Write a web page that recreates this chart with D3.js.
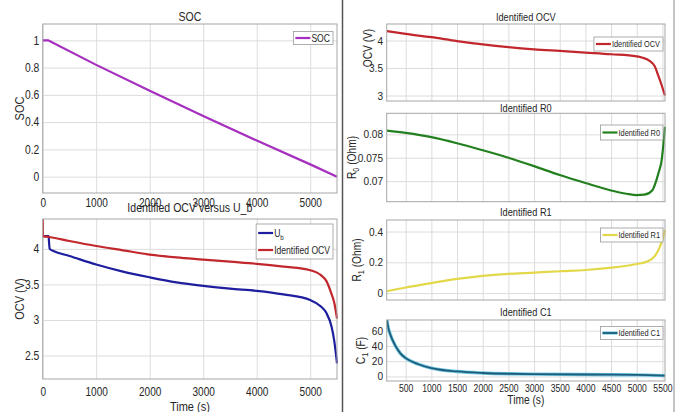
<!DOCTYPE html>
<html>
<head>
<meta charset="utf-8">
<script src="https://cdn.jsdelivr.net/npm/d3@7"></script>
<style>
  html, body { margin: 0; padding: 0; background: #fff; }
  svg { display: block; font-family: "Liberation Sans", Arial, Helvetica, sans-serif; }
  .tick line { stroke: none; }
  .domain { stroke: none; }
</style>
</head>
<body>
<svg id="fig" width="682" height="412"></svg>
<script>
// ---- SOC (left, top) ----
const socTime = [0, 100, 1000, 2000, 3000, 4000, 5000, 5500];
const socVal  = [1, 1, 0.82, 0.63, 0.445, 0.265, 0.09, 0.0];

// ---- Identified OCV versus U_b (left, bottom) ----
const ubTime = [0, 110, 118, 130, 200, 500, 1000, 1500, 2000, 2500, 3000, 3500, 4000, 4500, 5000, 5200, 5300, 5400, 5450, 5500];
const ubVal  = [4.18, 4.18, 4.1, 4.0, 3.97, 3.90, 3.78, 3.68, 3.60, 3.53, 3.48, 3.44, 3.41, 3.36, 3.28, 3.19, 3.10, 2.90, 2.70, 2.39];
const ocvLTime = [0, 3, 100, 500, 1000, 1500, 2000, 2500, 3000, 3500, 4000, 4500, 5000, 5200, 5300, 5400, 5450, 5500];
const ocvLVal  = [4.42, 4.18, 4.17, 4.11, 4.04, 3.98, 3.92, 3.88, 3.85, 3.82, 3.79, 3.75, 3.70, 3.63, 3.55, 3.36, 3.24, 3.02];

// ---- right column: identified parameters ----
const ocvTime = [135, 500, 1000, 1500, 2000, 2500, 3000, 3500, 4000, 4500, 5000, 5100, 5250, 5350, 5420, 5480, 5550];
const ocvVal  = [4.17, 4.12, 4.06, 3.99, 3.93, 3.88, 3.84, 3.81, 3.78, 3.75, 3.71, 3.69, 3.63, 3.53, 3.36, 3.20, 3.00];

const r0Time = [135, 500, 1000, 1500, 2000, 2500, 3000, 3500, 4000, 4500, 4800, 5000, 5150, 5300, 5420, 5485, 5550];
const r0Val  = [0.0808, 0.0803, 0.0794, 0.0781, 0.0766, 0.0750, 0.0732, 0.0713, 0.0696, 0.0680, 0.0673, 0.0670, 0.0671, 0.0680, 0.0716, 0.0745, 0.0816];

const r1Time = [135, 500, 1000, 1500, 2000, 2500, 3000, 3500, 4000, 4500, 5000, 5200, 5350, 5450, 5520, 5550];
const r1Val  = [0.012, 0.036, 0.065, 0.092, 0.112, 0.125, 0.133, 0.142, 0.150, 0.165, 0.189, 0.205, 0.24, 0.30, 0.37, 0.41];

const c1Time = [135, 160, 200, 300, 400, 500, 750, 1000, 1500, 2000, 2500, 3000, 4000, 5000, 5550];
const c1Val  = [74, 64, 55, 40, 30, 24, 16, 11, 6.5, 4.5, 3.5, 3, 2.5, 2, 1.0];

// tick values
const leftXTicks  = [0, 1000, 2000, 3000, 4000, 5000];
const socYTicks   = [0, 0.2, 0.4, 0.6, 0.8, 1];
const ubYTicks    = [2.5, 3, 3.5, 4];
const rightXTicks = [500, 1000, 1500, 2000, 2500, 3000, 3500, 4000, 4500, 5000, 5500];
const ocvYTicks   = [3, 3.5, 4];
const r0YTicks    = [0.07, 0.075, 0.08];
const r1YTicks    = [0, 0.2, 0.4];
const c1YTicks    = [0, 20, 40, 60];

const svg = d3.select("#fig");
const INK = "#262626";

// text helper: narrow glyphs via horizontal scale, optional rotation, sub/superscript parts
function label(g, x, y, txt, opt = {}) {
  const size = opt.size || 11.5, sx = opt.sx || 0.86;
  const grp = g.append("g").attr("transform",
    `translate(${x},${y})` + (opt.rot ? ` rotate(${opt.rot})` : "") + ` scale(${sx},1)`);
  const t = grp.append("text")
    .attr("text-anchor", opt.anchor || "middle")
    .attr("font-size", size)
    .attr("fill", INK);
  if (Array.isArray(txt)) {
    txt.forEach(p => {
      const ts = t.append("tspan").text(p.s);
      if (p.sub) ts.attr("font-size", size * 0.72).attr("dy", 3);
      else if (p.after) ts.attr("dy", -3);
    });
  } else t.text(txt);
  return { t, sx };
}

function panel(o) {
  const g = svg.append("g");
  const x = d3.scaleLinear().domain(o.xd).range([o.x0, o.x1]);
  const y = d3.scaleLinear().domain(o.yd).range([o.y1, o.y0]);
  const st = o.text;

  g.append("rect").attr("x", o.x0).attr("y", o.y0)
    .attr("width", o.x1 - o.x0).attr("height", o.y1 - o.y0).attr("fill", "#fff");

  // grid
  g.append("g").attr("transform", `translate(0,${o.y1})`)
    .call(d3.axisBottom(x).tickValues(o.xt).tickSize(-(o.y1 - o.y0)).tickFormat(""))
    .call(s => s.selectAll(".tick line").style("stroke", "#dcdcdc").attr("stroke-width", 1));
  g.append("g").attr("transform", `translate(${o.x0},0)`)
    .call(d3.axisLeft(y).tickValues(o.yt).tickSize(-(o.x1 - o.x0)).tickFormat(""))
    .call(s => s.selectAll(".tick line").style("stroke", "#dcdcdc").attr("stroke-width", 1));

  // tick labels
  if (o.showX) {
    const ax = g.append("g").attr("transform", `translate(0,${o.y1})`)
      .call(d3.axisBottom(x).tickValues(o.xt).tickSize(0).tickPadding(o.xPad).tickFormat(d3.format("d")));
    ax.selectAll("text").attr("font-size", st.xt[0]).attr("fill", INK).attr("font-family", null)
      .attr("transform", `scale(${st.xt[1]},1)`);
  }
  const ay = g.append("g").attr("transform", `translate(${o.x0},0)`)
    .call(d3.axisLeft(y).tickValues(o.yt).tickSize(0).tickPadding(4).tickFormat(d => +d.toFixed(3) + ""));
  ay.selectAll("text").attr("font-size", st.yt[0]).attr("fill", INK).attr("font-family", null)
    .attr("transform", `scale(${st.yt[1]},1)`);

  // series
  const clip = "c" + Math.round(o.x0) + "_" + Math.round(o.y0);
  svg.append("clipPath").attr("id", clip).append("rect")
    .attr("x", o.x0).attr("y", o.y0 - 1).attr("width", o.x1 - o.x0 + 1).attr("height", o.y1 - o.y0 + 2);
  o.series.forEach(s => {
    const pts = s.t.map((t, i) => [t, s.v[i]]);
    const line = d3.line().x(d => x(d[0])).y(d => y(d[1])).curve(s.curve || d3.curveMonotoneX);
    if (s.halo) {
      g.append("path").attr("d", line(pts)).attr("fill", "none")
        .attr("stroke", s.halo).attr("stroke-width", s.w + 1.6).attr("clip-path", `url(#${clip})`)
        .attr("stroke-linejoin", "round");
    }
    g.append("path").attr("d", line(pts)).attr("fill", "none")
      .attr("stroke", s.color).attr("stroke-width", s.w).attr("clip-path", `url(#${clip})`)
      .attr("stroke-linejoin", "round");
  });

  // axes box
  g.append("rect").attr("x", o.x0).attr("y", o.y0)
    .attr("width", o.x1 - o.x0).attr("height", o.y1 - o.y0)
    .attr("fill", "none").attr("stroke", "#a6a6a6").attr("stroke-width", 1);

  // title, labels
  label(g, (o.x0 + o.x1) / 2, o.titleY, o.title, { size: st.title[0], sx: st.title[1] });
  label(g, o.ylabX, o.ylabY || (o.y0 + o.y1) / 2, o.ylab, { rot: -90, size: st.ylab[0], sx: st.ylab[1] });
  if (o.xlabel) label(g, (o.x0 + o.x1) / 2, o.xlabelY, o.xlabel, { size: st.ylab[0], sx: st.ylab[1] });

  // legend, anchored on its right edge
  const L = o.legend;
  const lg = g.append("g");
  const rowH = L.rowH;
  const box = lg.append("rect").attr("y", L.y)
    .attr("height", rowH * o.series.length + 1).attr("fill", "#fff")
    .attr("stroke", "#9a9a9a").attr("stroke-width", 0.8);
  const items = lg.append("g");
  let maxW = 0;
  o.series.forEach((s, i) => {
    const cy = L.y + rowH * i + rowH / 2 + 0.5;
    if (s.halo) items.append("line").attr("x1", 2).attr("x2", 17).attr("y1", cy).attr("y2", cy)
      .attr("stroke", s.halo).attr("stroke-width", s.w + 1.4);
    items.append("line").attr("x1", 2).attr("x2", 17).attr("y1", cy).attr("y2", cy)
      .attr("stroke", s.color).attr("stroke-width", s.w);
    const r = label(items, 18, cy + st.leg[0] * 0.35, s.name, { anchor: "start", size: st.leg[0], sx: st.leg[1] });
    maxW = Math.max(maxW, r.t.node().getComputedTextLength() * r.sx);
  });
  const bw = 18 + maxW + 3;
  box.attr("x", L.r - bw).attr("width", bw);
  items.attr("transform", `translate(${L.r - bw},0)`);
  return { x, y };
}

// text sizes: [font-size, horizontal scale]
const leftText  = { xt: [12, 0.84], yt: [12, 0.86], title: [12, 0.88], ylab: [12.5, 0.88], leg: [10, 0.86] };
const rightText = { xt: [10.8, 0.8], yt: [11, 0.92], title: [11.5, 0.8], ylab: [12, 0.85], leg: [9.5, 0.78] };

// left column
panel({
  x0: 42.7, x1: 337, y0: 24, y1: 193, xd: [0, 5500], yd: [-0.12, 1.12],
  xt: leftXTicks, yt: socYTicks, showX: true, xPad: 5, text: leftText,
  title: "SOC", titleY: 21, ylab: "SOC", ylabX: 24,
  series: [{ t: socTime, v: socVal, color: "#a62fbf", w: 2.2, name: "SOC", curve: d3.curveLinear }],
  legend: { r: 333, y: 31.5, rowH: 12 }
});
panel({
  x0: 42.7, x1: 337, y0: 219, y1: 379, xd: [0, 5500], yd: [2.17, 4.42],
  xt: leftXTicks, yt: ubYTicks, showX: true, xPad: 8.5, text: leftText,
  title: "Identified OCV versus U_b", titleY: 212, ylab: "OCV (V)", ylabX: 24,
  xlabel: "Time (s)", xlabelY: 411,
  series: [
    { t: ubTime, v: ubVal, color: "#1e1e9e", w: 2.2, name: [{ s: "U" }, { s: "b", sub: true }] },
    { t: ocvLTime, v: ocvLVal, color: "#c1272d", w: 2.2, name: "Identified OCV" }
  ],
  legend: { r: 333, y: 224, rowH: 17 }
});

// right column
const RX0 = 386.7, RX1 = 665, RXD = [130, 5550];
panel({
  x0: RX0, x1: RX1, y0: 24, y1: 101, xd: RXD, yd: [2.9, 4.3],
  xt: rightXTicks, yt: ocvYTicks, showX: false, text: rightText,
  title: "Identified OCV", titleY: 21, ylab: "OCV (V)", ylabX: 372, ylabY: 48,
  series: [{ t: ocvTime, v: ocvVal, color: "#c1272d", w: 2.2, name: "Identified OCV" }],
  legend: { r: 663, y: 37, rowH: 13 }
});
panel({
  x0: RX0, x1: RX1, y0: 113.3, y1: 201.7, xd: RXD, yd: [0.0656, 0.0845],
  xt: rightXTicks, yt: r0YTicks, showX: false, text: rightText,
  title: "Identified R0", titleY: 112, ylab: [{ s: "R" }, { s: "0", sub: true }, { s: " (Ohm)", after: true }], ylabX: 356,
  series: [{ t: r0Time, v: r0Val, color: "#23801f", w: 2.2, name: "Identified R0" }],
  legend: { r: 663, y: 125, rowH: 14 }
});
panel({
  x0: RX0, x1: RX1, y0: 220, y1: 300, xd: RXD, yd: [-0.045, 0.475],
  xt: rightXTicks, yt: r1YTicks, showX: false, text: rightText,
  title: "Identified R1", titleY: 216, ylab: [{ s: "R" }, { s: "1", sub: true }, { s: " (Ohm)", after: true }], ylabX: 361,
  series: [{ t: r1Time, v: r1Val, color: "#e3d84a", w: 2.2, name: "Identified R1" }],
  legend: { r: 663, y: 228, rowH: 13 }
});
panel({
  x0: RX0, x1: RX1, y0: 320, y1: 381, xd: RXD, yd: [-6, 74],
  xt: rightXTicks, yt: c1YTicks, showX: true, xPad: 3.5, text: rightText,
  title: "Identified C1", titleY: 316, ylab: [{ s: "C" }, { s: "1", sub: true }, { s: " (F)", after: true }], ylabX: 365,
  xlabel: "Time (s)", xlabelY: 403.5,
  series: [{ t: c1Time, v: c1Val, color: "#1f5d7c", halo: "#6fc6e0", w: 1.8, name: "Identified C1" }],
  legend: { r: 663, y: 326.5, rowH: 12 }
});

// window frames around the right-hand figure
svg.append("line").attr("x1", 342.5).attr("x2", 342.5).attr("y1", 0).attr("y2", 412)
  .attr("stroke", "#555").attr("stroke-width", 1.5);
svg.append("line").attr("x1", 674).attr("x2", 674).attr("y1", 0).attr("y2", 412)
  .attr("stroke", "#888").attr("stroke-width", 1);
</script>
</body>
</html>
